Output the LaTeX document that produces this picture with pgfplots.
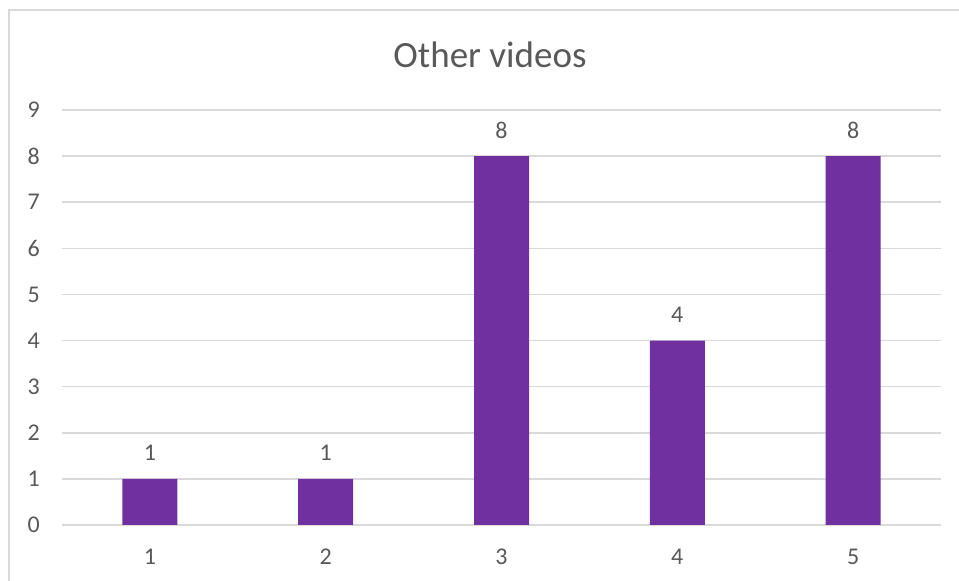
\documentclass[border=0pt]{standalone}
\usepackage{pgfplots}
\pgfplotsset{compat=1.18}
\usepackage{fontspec}
\setmainfont{Carlito}
\definecolor{barc}{HTML}{7030A0}
\definecolor{gridc}{HTML}{D9D9D9}
\definecolor{txt}{HTML}{595959}
\begin{document}
\begin{tikzpicture}[x=1pt,y=1pt]
\path[use as bounding box] (0,0) rectangle (959,581);
\draw[gridc, line width=2pt] (9,-5) -- (9,571) -- (965,571);
\node[text=txt, font=\fontsize{37}{40}\selectfont] at (490,526) {Other videos};
\begin{axis}[
  at={(62pt,56pt)}, anchor=south west,
  scale only axis, width=879pt, height=415pt,
  xmin=0.5, xmax=5.5, ymin=0, ymax=9,
  axis line style={draw=none},
  xtick={1,2,3,4,5}, ytick={0,1,...,9},
  major tick length=0pt,
  ymajorgrids, grid style={gridc, line width=1.5pt},
  ticklabel style={text=txt, font=\fontsize{24}{28}\selectfont},
  /pgf/number format/assume math mode=true,
  yticklabel style={anchor=east, inner sep=0pt, xshift=-22pt},
  xticklabel style={anchor=center, inner sep=0pt, yshift=-32pt},
  every node near coord/.style={anchor=center, yshift=26pt, inner sep=0pt, text=txt, font=\fontsize{24}{28}\selectfont},
  clip=false,
]
\addplot[ybar, bar width=55pt, fill=barc, draw=none, nodes near coords] coordinates {(1,1) (2,1) (3,8) (4,4) (5,8)};
\end{axis}
\end{tikzpicture}
\end{document}
